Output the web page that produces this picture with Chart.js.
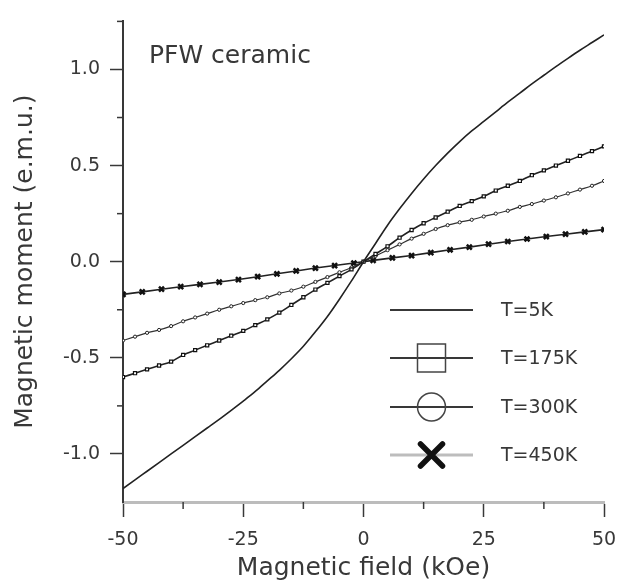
<!DOCTYPE html>
<html>
<head>
<meta charset="utf-8">
<script src="https://cdn.jsdelivr.net/npm/chart.js@4.4.1/dist/chart.umd.min.js"></script>
<style>
  html, body { margin: 0; padding: 0; background: #fff; }
  #wrap { width: 619px; height: 586px; }
</style>
</head>
<body>
<div id="wrap"><canvas id="mhChart"></canvas></div>
<script>
// field steps (kOe) shared by the 5K, 175K and 300K curves
const fieldX = [-50, -47.5, -45, -42.5, -40, -37.5, -35, -32.5, -30, -27.5, -25, -22.5, -20, -17.5, -15, -12.5, -10, -7.5, -5, -2.5,
  0, 2.5, 5, 7.5, 10, 12.5, 15, 17.5, 20, 22.5, 25, 27.5, 30, 32.5, 35, 37.5, 40, 42.5, 45, 47.5, 50];

const moment5K = [-1.18, -1.135, -1.09, -1.045, -1.00, -0.955, -0.91, -0.865, -0.82, -0.773, -0.725, -0.675, -0.62, -0.565, -0.505, -0.44, -0.365, -0.285, -0.195, -0.10,
  0.00, 0.095, 0.19, 0.275, 0.355, 0.43, 0.50, 0.565, 0.625, 0.68, 0.73, 0.78, 0.83, 0.877, 0.925, 0.97, 1.015, 1.058, 1.10, 1.14, 1.18];

const moment175K = [-0.60, -0.58, -0.56, -0.54, -0.52, -0.485, -0.46, -0.435, -0.41, -0.385, -0.36, -0.33, -0.30, -0.265, -0.225, -0.185, -0.145, -0.11, -0.075, -0.04,
  0.00, 0.04, 0.08, 0.125, 0.165, 0.20, 0.23, 0.26, 0.29, 0.315, 0.34, 0.37, 0.395, 0.42, 0.45, 0.475, 0.50, 0.525, 0.55, 0.575, 0.60];

const moment300K = [-0.41, -0.39, -0.37, -0.355, -0.335, -0.31, -0.29, -0.27, -0.25, -0.232, -0.215, -0.20, -0.185, -0.165, -0.15, -0.13, -0.105, -0.08, -0.055, -0.03,
  0.00, 0.03, 0.06, 0.09, 0.12, 0.145, 0.17, 0.19, 0.205, 0.218, 0.235, 0.25, 0.265, 0.285, 0.30, 0.318, 0.335, 0.355, 0.375, 0.395, 0.42];

// 450K was measured every 4 kOe
const field450K = [-50, -46, -42, -38, -34, -30, -26, -22, -18, -14, -10, -6, -2, 2, 6, 10, 14, 18, 22, 26, 30, 34, 38, 42, 46, 50];
const moment450K = [-0.170, -0.157, -0.143, -0.130, -0.118, -0.106, -0.093, -0.078, -0.063, -0.048, -0.033, -0.020, -0.007,
  0.007, 0.020, 0.032, 0.047, 0.062, 0.076, 0.091, 0.105, 0.118, 0.131, 0.143, 0.155, 0.167];

const seriesLabels = ['T=5K', 'T=175K', 'T=300K', 'T=450K'];
const xMajorTicks = [-50, -25, 0, 25, 50];
const xMinorTicks = [-37.5, -12.5, 12.5, 37.5];
const yMajorTicks = [-1.0, -0.5, 0.0, 0.5, 1.0];
const yMinorTicks = [-0.75, -0.25, 0.25, 0.75, 1.25];
const sampleName = 'PFW ceramic';

const FONT = 'DejaVu Sans';
const INK = '#383838';

function pts(xs, ys) {
  return xs.map((x, i) => ({ x: x, y: ys[i] }));
}

// minor ticks, sample name and the legend box
const extras = {
  id: 'extras',
  afterDraw(chart) {
    const ctx = chart.ctx;
    const xs = chart.scales.x, ys = chart.scales.y;
    const area = chart.chartArea;
    ctx.save();
    ctx.strokeStyle = INK;
    ctx.lineWidth = 1.5;
    xMinorTicks.forEach(v => {
      const px = xs.getPixelForValue(v);
      ctx.beginPath(); ctx.moveTo(px, area.bottom); ctx.lineTo(px, area.bottom + 7); ctx.stroke();
    });
    yMinorTicks.forEach(v => {
      const py = ys.getPixelForValue(v);
      ctx.beginPath(); ctx.moveTo(area.left - 6, py); ctx.lineTo(area.left, py); ctx.stroke();
    });

    ctx.fillStyle = INK;
    ctx.font = '25px "' + FONT + '"';
    ctx.textAlign = 'left';
    ctx.textBaseline = 'middle';
    ctx.fillText(sampleName, area.left + 26, area.top + 35);

    // legend
    const x0 = 390, x1 = 473, xm = (x0 + x1) / 2, xt = 501;
    const rowY = [310, 358, 407, 455];
    chart.data.datasets.forEach((ds, i) => {
      const y = rowY[i];
      ctx.beginPath();
      ctx.strokeStyle = i === 3 ? '#bdbdbd' : INK;
      ctx.lineWidth = i === 3 ? 3 : 2;
      ctx.moveTo(x0, y); ctx.lineTo(x1, y); ctx.stroke();
      ctx.strokeStyle = '#444';
      ctx.lineWidth = 1.5;
      if (i === 1) {
        ctx.strokeRect(xm - 14, y - 14, 28, 28);
      } else if (i === 2) {
        ctx.beginPath(); ctx.arc(xm, y, 14, 0, Math.PI * 2); ctx.stroke();
      } else if (i === 3) {
        ctx.strokeStyle = '#111';
        ctx.lineWidth = 5.5;
        ctx.lineCap = 'round';
        ctx.beginPath();
        ctx.moveTo(xm - 11, y - 11); ctx.lineTo(xm + 11, y + 11);
        ctx.moveTo(xm + 11, y - 11); ctx.lineTo(xm - 11, y + 11);
        ctx.stroke();
        ctx.lineCap = 'butt';
      }
      ctx.fillStyle = INK;
      ctx.font = '19px "' + FONT + '"';
      ctx.fillText(ds.label, xt, y + 1);
    });
    ctx.restore();
  }
};

new Chart(document.getElementById('mhChart'), {
  type: 'line',
  data: {
    datasets: [
      {
        label: seriesLabels[0],
        data: pts(fieldX, moment5K),
        borderColor: '#222', borderWidth: 1.6,
        pointRadius: 0, cubicInterpolationMode: 'monotone'
      },
      {
        label: seriesLabels[1],
        data: pts(fieldX, moment175K),
        borderColor: '#222', borderWidth: 1.6,
        pointStyle: 'rect', pointRadius: 2.2, pointBorderColor: '#111', pointBackgroundColor: '#fff', pointBorderWidth: 1.2,
        cubicInterpolationMode: 'monotone'
      },
      {
        label: seriesLabels[2],
        data: pts(fieldX, moment300K),
        borderColor: '#333', borderWidth: 1.2,
        pointStyle: 'circle', pointRadius: 1.6, pointBorderColor: '#222', pointBackgroundColor: '#fff', pointBorderWidth: 1,
        cubicInterpolationMode: 'monotone'
      },
      {
        label: seriesLabels[3],
        data: pts(field450K, moment450K),
        borderColor: '#222', borderWidth: 1.6,
        pointStyle: 'crossRot', pointRadius: 3.5, pointBorderColor: '#111', pointBorderWidth: 2.5,
        tension: 0
      }
    ]
  },
  options: {
    responsive: true,
    maintainAspectRatio: false,
    animation: false,
    layout: { padding: { left: 0, top: 20, right: 15, bottom: 0 } },
    plugins: { legend: { display: false }, tooltip: { enabled: false } },
    scales: {
      x: {
        type: 'linear', min: -50, max: 50,
        afterBuildTicks: s => { s.ticks = xMajorTicks.map(v => ({ value: v })); },
        afterFit: s => { s.height = 84; s.paddingRight = 0; s.paddingLeft = 0; },
        border: { display: true, color: '#bcbcbc', width: 3 },
        grid: { drawOnChartArea: false, drawTicks: true, tickLength: 15, tickColor: INK, tickWidth: 1.5 },
        ticks: {
          padding: 12, color: INK, font: { family: FONT, size: 19 },
          maxRotation: 0, autoSkip: false,
          callback: v => String(v)
        },
        title: {
          display: true, text: 'Magnetic field (kOe)', color: INK,
          font: { family: FONT, size: 25 }, padding: { top: 0, bottom: 3 }
        }
      },
      y: {
        type: 'linear', min: -1.25, max: 1.25,
        afterBuildTicks: s => { s.ticks = yMajorTicks.map(v => ({ value: v })); },
        afterFit: s => { s.width = 123; },
        border: { display: true, color: INK, width: 2 },
        grid: { drawOnChartArea: false, drawTicks: true, tickLength: 13, tickColor: INK, tickWidth: 1.5 },
        ticks: {
          padding: 10, color: INK, font: { family: FONT, size: 19 },
          callback: v => Number(v).toFixed(1)
        },
        title: {
          display: true, text: 'Magnetic moment (e.m.u.)', color: INK,
          font: { family: FONT, size: 25 }, padding: { top: 10, bottom: 0 }
        }
      }
    }
  },
  plugins: [extras]
});
</script>
</body>
</html>
